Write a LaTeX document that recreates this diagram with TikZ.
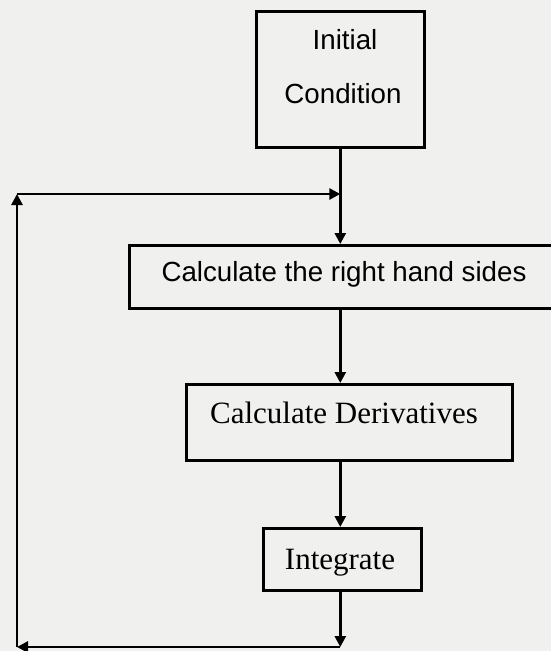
\documentclass[tikz,border=0pt]{standalone}
\usepackage{fontspec}
\newfontfamily\sansf{Liberation Sans}
\newfontfamily\seriff{Liberation Serif}
\usetikzlibrary{arrows.meta}
\definecolor{paper}{RGB}{240,240,238}
\begin{document}
\begin{tikzpicture}[x=1pt,y=-1pt,
  box/.style={draw, line width=2.6pt, rectangle, inner sep=0pt, anchor=north west},
  link/.style={line width=2.6pt, -{Triangle[length=11pt,width=11pt]}},
  wire/.style={line width=2.6pt},
  sanslabel/.style={font=\sansf\fontsize{27.7}{33}\selectfont, inner sep=0pt, anchor=base},
  seriflabel/.style={font=\seriff\fontsize{31}{37}\selectfont, inner sep=0pt, anchor=base}]
\useasboundingbox (0,0) rectangle (551,651);
\clip (0,0) rectangle (551,651);
\fill[paper] (0,0) rectangle (551,651);
% boxes
\node[box, minimum width=168pt, minimum height=136pt] (ic) at (255,10) {};
\node[box, minimum width=432pt, minimum height=63pt] (rhs) at (128,244) {};
\node[box, minimum width=326pt, minimum height=76pt] (der) at (185,383) {};
\node[box, minimum width=158pt, minimum height=62pt] (int) at (262,527) {};
% texts
\node[sanslabel] (ict1) at (345,49) {Initial};
\node[sanslabel] (ict2) at (343,103) {Condition};
\node[sanslabel] (rhst) at (344,281.5) {Calculate the right hand sides};
\node[seriflabel] (dert) at (344,423.5) {Calculate Derivatives};
\node[seriflabel] (intt) at (340,569) {Integrate};
% loop coordinates
\coordinate (tl) at (17,194);
\coordinate (bl) at (17,647);
\coordinate (j) at (ic.south |- tl);
\coordinate (br) at (ic.south |- bl);
% connectors
\draw[wire] (ic.south) -- (j);
\draw[link] (j) -- (ic.south |- rhs.north);
\draw[link] (ic.south |- rhs.south) -- (ic.south |- der.north);
\draw[link] (ic.south |- der.south) -- (ic.south |- int.north);
\draw[link] (ic.south |- int.south) -- (br);
\draw[link] (br) -- (bl);
\draw[link] (bl) -- (tl);
\draw[link] (tl) -- (j);
\end{tikzpicture}
\end{document}
